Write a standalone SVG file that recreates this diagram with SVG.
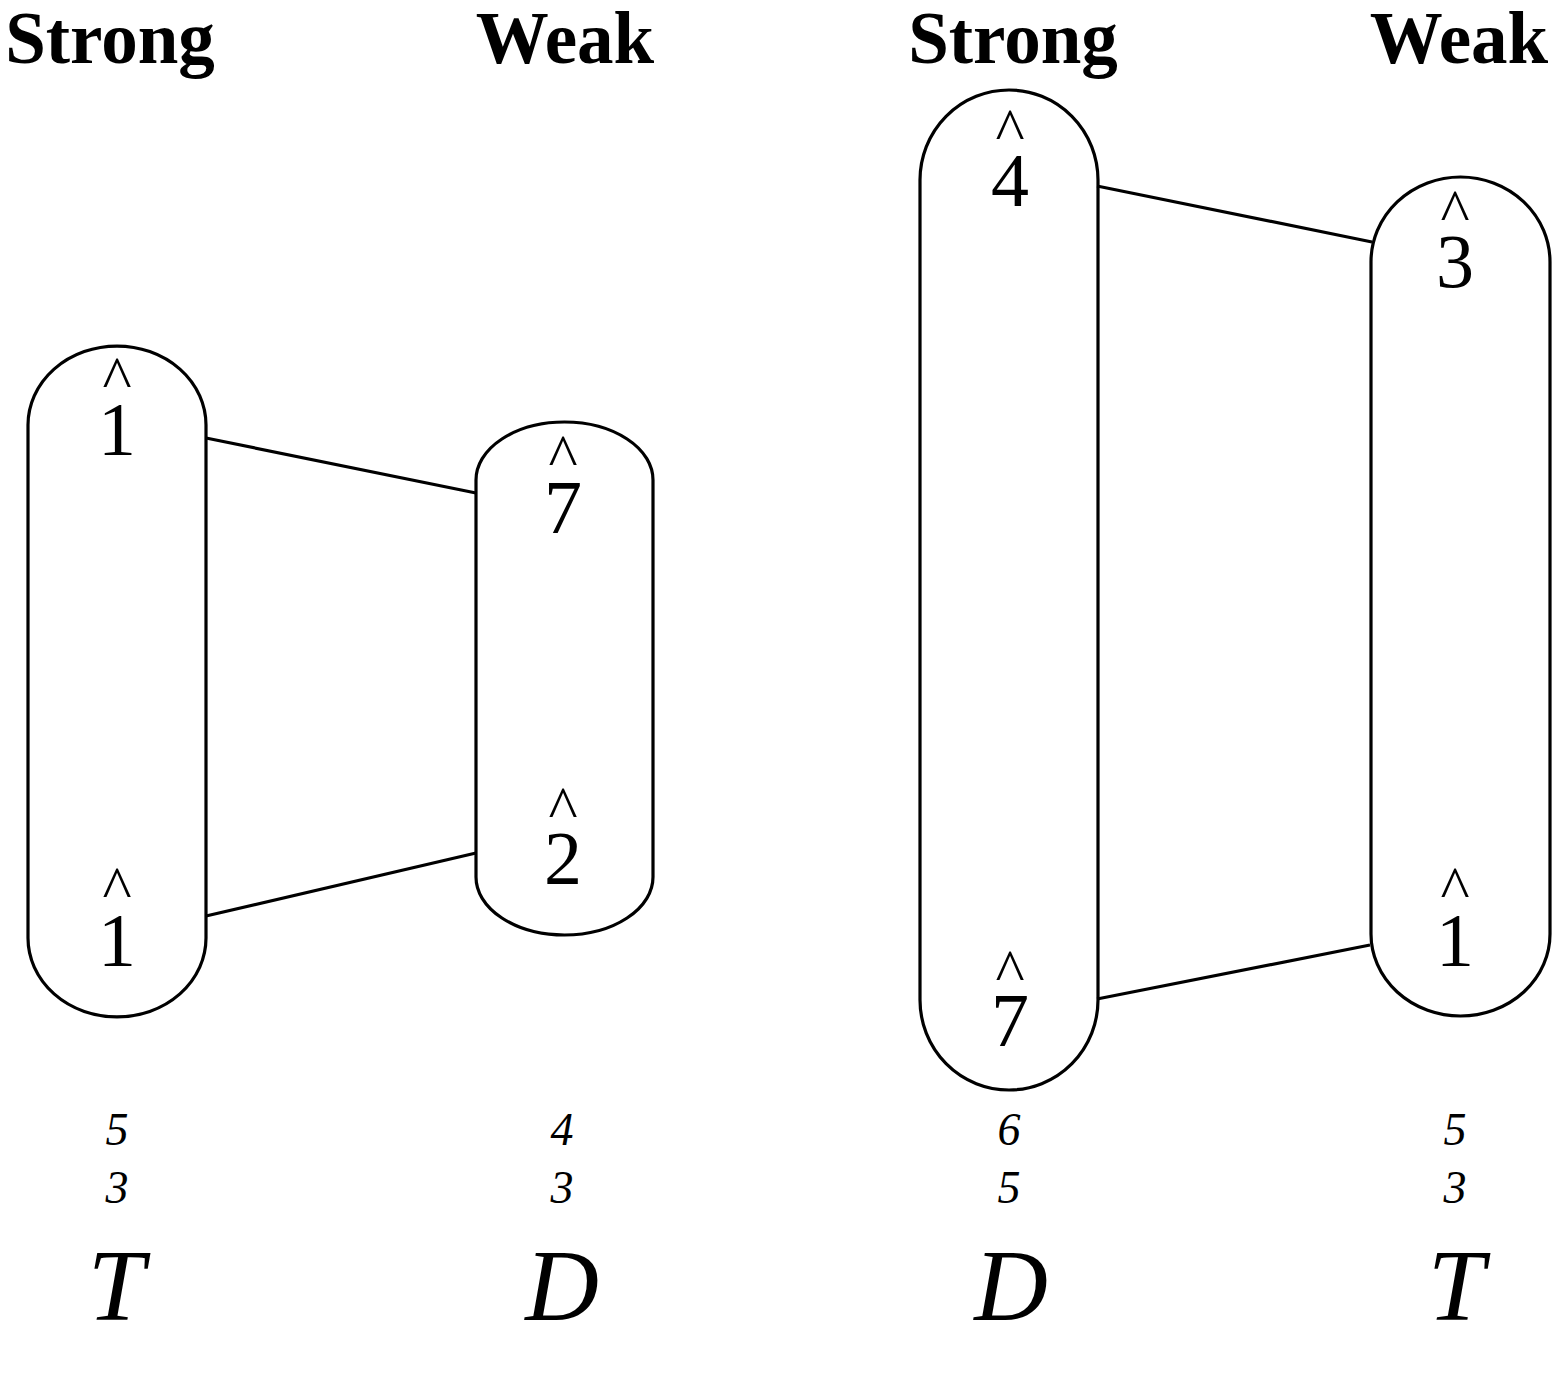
<svg xmlns="http://www.w3.org/2000/svg" width="1553" height="1391" viewBox="0 0 1553 1391">
<style>
.cap{fill:none;stroke:#000;stroke-width:3.2}
.con line{stroke:#000;stroke-width:3.2}
.hd{font-family:"Liberation Serif",serif;font-weight:bold;font-size:73px;text-anchor:middle}
.deg{font-family:"Liberation Serif",serif;font-size:76px;text-anchor:middle}
.hat{font-size:62px}
.fig{font-family:"Liberation Serif",serif;font-style:italic;font-size:46px;text-anchor:middle}
.fn{font-family:"Liberation Serif",serif;font-style:italic;font-size:102px;text-anchor:middle}
</style>
<rect width="1553" height="1391" fill="#fff"/>
<g id="headers">
<text class="hd" x="110" y="63">Strong</text>
<text class="hd" x="565" y="63">Weak</text>
<text class="hd" x="1013" y="63">Strong</text>
<text class="hd" x="1459" y="63">Weak</text>
</g>
<g id="connectors" class="con">
<line x1="206" y1="438" x2="476" y2="493"/>
<line x1="206" y1="916" x2="476" y2="853"/>
<line x1="1097" y1="186" x2="1372" y2="242"/>
<line x1="1097" y1="999" x2="1370" y2="945"/>
</g>
<g id="node-T1">
<path class="cap" d="M28,425 A89,79 0 0 1 206,425 L206,938 A89,79 0 0 1 28,938 Z"/>
<text class="deg"><tspan class="hat" x="117" y="399">^</tspan><tspan x="117" y="455">1</tspan></text>
<text class="deg"><tspan class="hat" x="117" y="909">^</tspan><tspan x="117" y="966">1</tspan></text>
</g>
<g id="node-D1">
<path class="cap" d="M476,480 A88.5,58 0 0 1 653,480 L653,877 A88.5,58 0 0 1 476,877 Z"/>
<text class="deg"><tspan class="hat" x="563" y="477">^</tspan><tspan x="563" y="533">7</tspan></text>
<text class="deg"><tspan class="hat" x="563" y="829">^</tspan><tspan x="563" y="884">2</tspan></text>
</g>
<g id="node-D2">
<path class="cap" d="M920,180 A89,90 0 0 1 1098,180 L1098,1000 A89,90 0 0 1 920,1000 Z"/>
<text class="deg"><tspan class="hat" x="1010" y="151">^</tspan><tspan x="1010" y="206">4</tspan></text>
<text class="deg"><tspan class="hat" x="1010" y="992">^</tspan><tspan x="1010" y="1046">7</tspan></text>
</g>
<g id="node-T2">
<path class="cap" d="M1371,262 A89.5,85 0 0 1 1550,262 L1550,934 A89.5,82 0 0 1 1371,934 Z"/>
<text class="deg"><tspan class="hat" x="1455" y="232">^</tspan><tspan x="1455" y="287">3</tspan></text>
<text class="deg"><tspan class="hat" x="1455" y="909">^</tspan><tspan x="1455" y="966">1</tspan></text>
</g>
<g id="figures">
<text class="fig" x="117" y="1145">5</text>
<text class="fig" x="117" y="1203">3</text>
<text class="fig" x="562" y="1145">4</text>
<text class="fig" x="562" y="1203">3</text>
<text class="fig" x="1009" y="1145">6</text>
<text class="fig" x="1009" y="1203">5</text>
<text class="fig" x="1455" y="1145">5</text>
<text class="fig" x="1455" y="1203">3</text>
<text class="fn" x="116" y="1320">T</text>
<text class="fn" x="562" y="1320">D</text>
<text class="fn" x="1011" y="1320">D</text>
<text class="fn" x="1456" y="1320">T</text>
</g>
</svg>
